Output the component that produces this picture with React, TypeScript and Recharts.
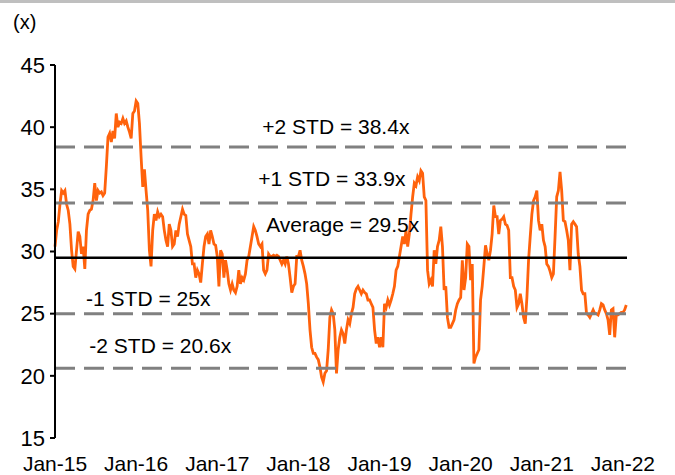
import { LineChart, Line, XAxis, YAxis, ReferenceLine } from 'recharts';

// P/E multiple, read roughly weekly, one list per calendar year
const years = [2015, 2016, 2017, 2018, 2019, 2020, 2021, 2022];
const xTickLabels = ['Jan-15', 'Jan-16', 'Jan-17', 'Jan-18', 'Jan-19', 'Jan-20', 'Jan-21', 'Jan-22'];
const yTicks = [15, 20, 25, 30, 35, 40, 45];

const pe2015 = [
  30.4, 31.7, 32.4, 33.8, 34.9, 34.7, 34.9, 33.8, 33.3, 32.2,
  30.1, 28.8, 28.6, 30.1, 31.6, 31.2, 29.8, 30.4, 28.6, 31.7,
  33.0, 33.3, 33.4, 34.1, 35.5, 34.1, 34.9, 34.7, 34.8, 34.5,
  34.7, 36.8, 39.2, 39.5, 38.8, 39.7, 39.1, 41.1, 40.0, 40.4,
  40.3, 40.7, 40.3, 40.5, 40.0, 39.6, 39.1, 41.1, 41.3,
];
const pe2016 = [
  42.1, 41.9, 40.3, 37.6, 35.2, 36.6, 34.9, 33.3, 30.1, 28.8,
  31.7, 33.0, 32.5, 33.2, 32.8, 33.0, 32.8, 31.7, 30.9, 30.4,
  32.2, 31.7, 30.4, 30.6, 31.7, 31.2, 32.2, 32.8, 33.4, 33.0,
  32.9, 31.4, 30.9, 30.4, 29.0, 29.0, 27.9, 28.5, 28.2, 27.5,
  29.0, 30.4, 31.2, 31.4, 30.6, 31.7, 31.2, 30.6, 30.5,
];
const pe2017 = [
  29.6, 27.2, 30.1, 29.8, 27.9, 29.3, 28.5, 27.4, 26.9, 27.4,
  26.9, 26.7, 27.2, 28.5, 27.4, 27.9, 27.7, 28.2, 29.3, 29.6,
  30.4, 31.2, 32.0, 31.7, 31.2, 30.6, 30.4, 30.6, 28.5, 28.2,
  28.5, 29.8, 29.6, 29.6, 29.7, 29.6, 29.7, 29.6, 29.3, 29.0,
  29.3, 29.0, 29.6, 29.0, 27.9, 26.7, 27.2, 27.4, 29.6,
];
const pe2018 = [
  29.6, 30.1, 29.3, 28.8, 28.2, 27.4, 25.8, 23.7, 22.3, 21.8,
  21.8, 21.5, 21.3, 20.7, 19.9, 19.5, 20.2, 20.4, 22.1, 24.7,
  25.3, 25.0, 23.7, 20.2, 22.1, 23.1, 23.7, 23.4, 22.6, 23.7,
  24.5, 24.2, 25.0, 25.5, 26.6, 27.0, 27.2, 26.9, 26.6, 26.9,
  26.7, 26.6, 26.1, 26.1, 25.8, 25.5, 23.7, 22.6, 23.1,
];
const pe2019 = [
  22.3, 23.1, 22.3, 25.8, 25.5, 26.1, 25.7, 26.1, 26.6, 27.2,
  28.5, 28.8, 29.6, 30.4, 31.2, 30.6, 31.7, 30.4, 31.4, 33.0,
  34.4, 35.5, 35.3, 36.0, 35.7, 36.5, 36.3, 34.4, 34.1, 28.5,
  27.4, 27.7, 27.2, 30.1, 29.0, 30.4, 30.9, 32.0, 30.4, 26.9,
  27.2, 24.7, 23.9, 23.9, 24.2, 24.5, 25.3, 25.8, 26.1,
];
const pe2020 = [
  26.3, 29.3, 26.9, 27.9, 30.6, 30.4, 27.7, 29.0, 21.0, 21.5,
  21.8, 22.1, 26.1, 27.2, 28.8, 30.5, 29.8, 29.3, 30.1, 31.4,
  33.7, 32.8, 32.8, 31.4, 32.5, 32.6, 32.8, 32.2, 32.1, 31.7,
  27.9, 27.9, 27.2, 26.9, 25.5, 25.8, 26.6, 25.8, 24.7, 24.2,
  26.3, 29.3, 31.2, 33.0, 34.1, 34.4, 34.9, 32.5, 31.7,
];
const pe2021 = [
  32.2, 30.9, 30.4, 29.0, 28.8, 28.4, 27.9, 28.2, 31.2, 34.4,
  34.9, 36.4, 34.9, 32.5, 32.4, 31.7, 30.9, 28.5, 32.2, 32.4,
  32.2, 32.0, 29.8, 28.8, 26.9, 26.6, 26.6, 25.0, 24.9, 24.7,
  25.0, 25.3, 25.0, 25.0, 24.9, 25.3, 25.8, 25.7, 25.3, 25.0,
  24.5, 23.3, 25.3, 25.4, 23.1, 24.9, 24.9, 25.0, 25.1,
];
const pe2022 = [25.1, 25.3, 25.7];

const bandValues = [38.4, 33.9, 29.5, 25, 20.6];
const bandLabels = ['+2 STD = 38.4x', '+1 STD = 33.9x', 'Average = 29.5x', '-1 STD = 25x', '-2 STD = 20.6x'];

const POINTS_PER_YEAR = 49;
const yearly = [pe2015, pe2016, pe2017, pe2018, pe2019, pe2020, pe2021, pe2022];
const data = yearly.flatMap((vals, k) =>
  vals.map((pe, i) => ({ t: years[k] + i / POINTS_PER_YEAR, pe }))
);

const FONT = '"Liberation Sans", Arial, sans-serif';

// where each band label sits: share of plot width, px above its line
const labelSpots = [
  { fx: 0.491, up: 21 },
  { fx: 0.484, up: 25 },
  { fx: 0.503, up: 33 },
  { fx: 0.163, up: 15 },
  { fx: 0.184, up: 23 },
];

function bandLabel(text: string, spot: { fx: number; up: number }) {
  return (props: any) => {
    const vb = props.viewBox || {};
    return (
      <text
        x={vb.x + vb.width * spot.fx}
        y={vb.y - spot.up}
        textAnchor="middle"
        dominantBaseline="central"
        fontSize={21}
        fontFamily={FONT}
        fill="#000"
      >
        {text}
      </text>
    );
  };
}

export default function App() {
  return (
    <div style={{ position: 'absolute', left: 0, top: 0, width: 675, height: 475, background: '#fff' }}>
      <div style={{ position: 'absolute', left: 0, top: 0, width: 675, height: 3, background: '#bfbfbf' }} />
      <div
        style={{
          position: 'absolute',
          left: 13,
          top: 11,
          fontFamily: FONT,
          fontSize: 20,
          lineHeight: '22px',
          color: '#000',
        }}
      >
        (x)
      </div>
      <LineChart width={675} height={475} data={data} margin={{ top: 65, right: 48, bottom: 0, left: 0 }}>
        <XAxis
          dataKey="t"
          type="number"
          domain={[2015, 2022.05]}
          ticks={years}
          interval={0}
          tickFormatter={(t: number) => xTickLabels[years.indexOf(t)]}
          axisLine={false}
          tickLine={false}
          tickSize={0}
          tickMargin={18}
          height={37}
          tick={{ fill: '#000', fontSize: 21, fontFamily: FONT }}
        />
        <YAxis
          type="number"
          domain={[15, 45]}
          ticks={yTicks}
          interval={0}
          width={55}
          axisLine={{ stroke: '#000', strokeWidth: 2 }}
          tickLine={{ stroke: '#000', strokeWidth: 2 }}
          tickSize={5}
          tickMargin={5}
          tick={{ fill: '#000', fontSize: 22, fontFamily: FONT }}
        />
        <Line
          type="linear"
          dataKey="pe"
          stroke="#ff620c"
          strokeWidth={2.8}
          dot={false}
          isAnimationActive={false}
        />
        {bandValues.map((v, i) => (
          <ReferenceLine
            key={bandLabels[i]}
            y={v}
            stroke={i === 2 ? '#000' : '#808080'}
            strokeWidth={i === 2 ? 2.5 : 3}
            strokeDasharray={i === 2 ? undefined : '20 9'}
            label={bandLabel(bandLabels[i], labelSpots[i])}
          />
        ))}
      </LineChart>
    </div>
  );
}
